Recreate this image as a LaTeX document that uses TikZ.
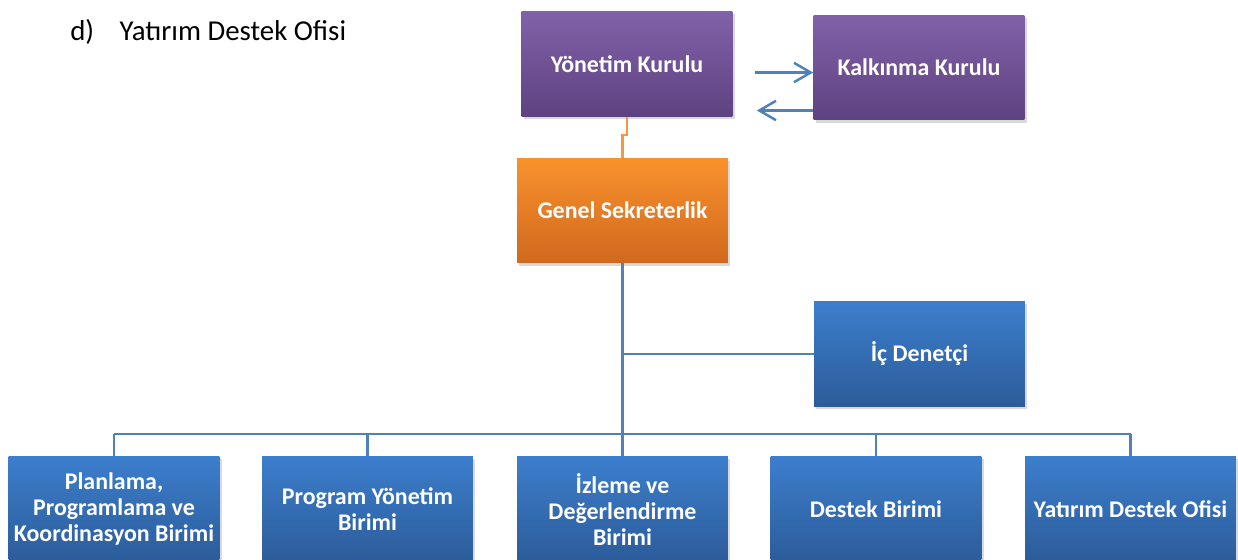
\documentclass[tikz,border=0pt]{standalone}
\usepackage{fontspec}
\setmainfont{Carlito}
\usetikzlibrary{arrows.meta,calc,shadows}

\definecolor{boardtop}{HTML}{8161A9}
\definecolor{boardbot}{HTML}{5E4280}
\definecolor{secrtop}{HTML}{F9922C}
\definecolor{secrbot}{HTML}{D0691D}
\definecolor{unittop}{HTML}{3C7ECD}
\definecolor{unitbot}{HTML}{2C5C99}
\definecolor{linkblue}{HTML}{4F81BD}
\definecolor{linkorange}{HTML}{F79646}

\tikzset{
  box/.style={minimum width=4.22cm, minimum height=2.1cm, inner sep=0pt,
    align=center, text=white, font=\fontsize{13.6}{14.8}\selectfont\bfseries,
    drop shadow={shadow xshift=1.2pt, shadow yshift=-1.5pt, opacity=0.3}},
  board/.style={box, top color=boardtop, bottom color=boardbot},
  secr/.style={box, top color=secrtop, bottom color=secrbot},
  unit/.style={box, top color=unittop, bottom color=unitbot},
  link/.style={draw=linkblue, line width=1.4pt},
  flow/.style={link, -{Straight Barb[length=9.5pt,width=11pt]}},
}

\begin{document}
\begin{tikzpicture}[x=0.02cm,y=-0.02cm]
\useasboundingbox (0,0) rectangle (1238,559);
\clip (0,0) rectangle (1238,559);

\node[anchor=base west, inner sep=0pt, font=\fontsize{16.4}{19}\selectfont] (title) at (70,40)
  {d)\hspace{14.5pt}Yatırım Destek Ofisi};

% ust kurullar
\node[board] (yk) at (627,64) {Yönetim Kurulu};
\node[board] (kk) at (919,67.5) {Kalkınma Kurulu};
\node[secr] (gs) at (622.5,210.5) {Genel Sekreterlik};
\node[unit] (ic) at (919.5,354) {İç Denetçi};

% birimler
\node[unit] (b1) at (114,509) {Planlama,\\Programlama ve\\Koordinasyon Birimi};
\node[unit] (b2) at (367.5,509) {Program Yönetim\\Birimi};
\node[unit] (b3) at (622.5,509) {İzleme ve\\Değerlendirme\\Birimi};
\node[unit] (b4) at (876,509) {Destek Birimi};
\node[unit] (b5) at (1130.5,509) {Yatırım Destek Ofisi};

\coordinate (bus) at (0,434);

\draw[flow] ($(yk.east)+(22,8.5)$) -- ($(kk.west)+(0,5)$);
\draw[flow] ($(kk.west)+(0,43)$) -- ($(yk.east)+(24,46.5)$);
\draw[draw=linkorange, line width=1.4pt] (yk.south) -- ++(0,18) -| (gs.north);

\begin{scope}[on background layer/.try]
\draw[link] (gs.south) -- (gs.south |- bus);
\draw[link] (ic.west) -- (ic.west -| gs.south);
\draw[link] (b1.north |- bus) -- (b5.north |- bus);
\foreach \b in {b1,b2,b3,b4,b5}
  \draw[link] (\b.north) -- (\b.north |- bus);
\end{scope}
\end{tikzpicture}
\end{document}
